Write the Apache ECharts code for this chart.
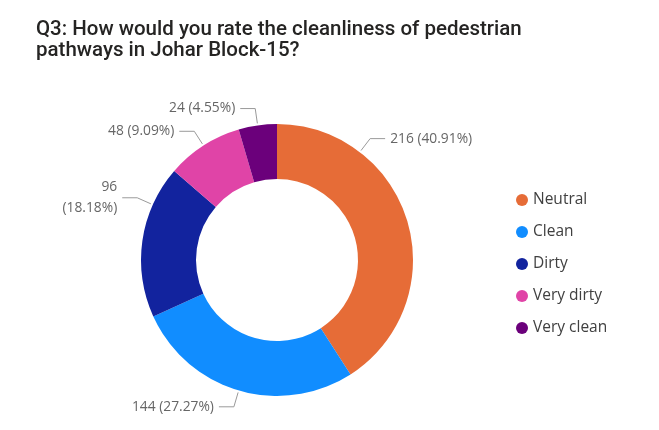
<!DOCTYPE html>
<html>
<head>
<meta charset="utf-8">
<script src="https://cdn.jsdelivr.net/npm/echarts@6/dist/echarts.min.js"></script>
<style>
  html, body { margin: 0; padding: 0; background: #ffffff; }
  #chart { width: 659px; height: 430px; }
</style>
</head>
<body>
<div id="chart"></div>
<script>
// Survey answers and their counts
const categories = ['Neutral', 'Clean', 'Dirty', 'Very dirty', 'Very clean'];
const counts = [216, 144, 96, 48, 24];
const sliceColors = ['#E66C37', '#118DFF', '#12239E', '#E044A7', '#6B007B'];

// Donut geometry (pixels)
const CX = 277, CY = 260, R_IN = 81, R_OUT = 136;
// Leader-line anchors that are moved away from the slice middle (degrees clockwise from top)
const anchorOverride = { 0: 37.5, 2: 294 };
// Labels that wrap the percentage onto a second line
const wrapLabel = { 2: true };

const total = counts.reduce((a, b) => a + b, 0);
const midAngles = [];
let acc = 0;
counts.forEach(v => {
  const span = v / total * 360;
  midAngles.push(acc + span / 2);
  acc += span;
});

const chart = echarts.init(document.getElementById('chart'), null, { renderer: 'canvas' });

chart.setOption({
  backgroundColor: '#ffffff',
  animation: false,
  title: {
    text: 'Q3: How would you rate the cleanliness of pedestrian\npathways in Johar Block-15?',
    left: 36,
    top: 19,
    padding: 0,
    textStyle: {
      fontFamily: 'Roboto',
      fontWeight: 500,
      fontSize: 20.5,
      lineHeight: 21,
      color: '#252423'
    }
  },
  legend: {
    orient: 'vertical',
    left: 516,
    top: 191,
    padding: 0,
    icon: 'circle',
    itemWidth: 12,
    itemHeight: 12,
    itemGap: 14,
    data: categories,
    textStyle: {
      fontFamily: 'Open Sans',
      fontSize: 15.5,
      lineHeight: 18,
      color: '#404040'
    }
  },
  series: [{
    type: 'pie',
    center: [CX, CY],
    radius: [R_IN, R_OUT],
    startAngle: 90,
    clockwise: true,
    avoidLabelOverlap: false,
    itemStyle: { borderWidth: 0 },
    label: {
      show: true,
      position: 'outside',
      fontFamily: 'Open Sans',
      fontSize: 13.8,
      lineHeight: 21,
      color: '#666666',
      formatter: p => wrapLabel[p.dataIndex]
        ? p.value + '\n(' + p.percent.toFixed(2) + '%)'
        : p.value + ' (' + p.percent.toFixed(2) + '%)'
    },
    labelLine: {
      show: true,
      lineStyle: { color: '#9a9a9a', width: 1 }
    },
    labelLayout: function (params) {
      const i = params.dataIndex;
      const deg = anchorOverride[i] !== undefined ? anchorOverride[i] : midAngles[i];
      const rad = deg * Math.PI / 180;
      const s = Math.sin(rad), c = Math.cos(rad);
      const ex = CX + (R_OUT + 2) * s, ey = CY - (R_OUT + 2) * c;
      const mx = ex + 15 * s, my = ey - 15 * c;
      const side = s >= 0 ? 1 : -1;
      const lx = mx + side * 15;
      return {
        x: lx + side * 5,
        y: my,
        align: side > 0 ? 'left' : 'right',
        verticalAlign: 'middle',
        labelLinePoints: [[ex, ey], [mx, my], [lx, my]]
      };
    },
    data: categories.map((name, i) => ({
      name: name,
      value: counts[i],
      itemStyle: { color: sliceColors[i] },
      label: { align: 'right' }
    }))
  }]
});
</script>
</body>
</html>
